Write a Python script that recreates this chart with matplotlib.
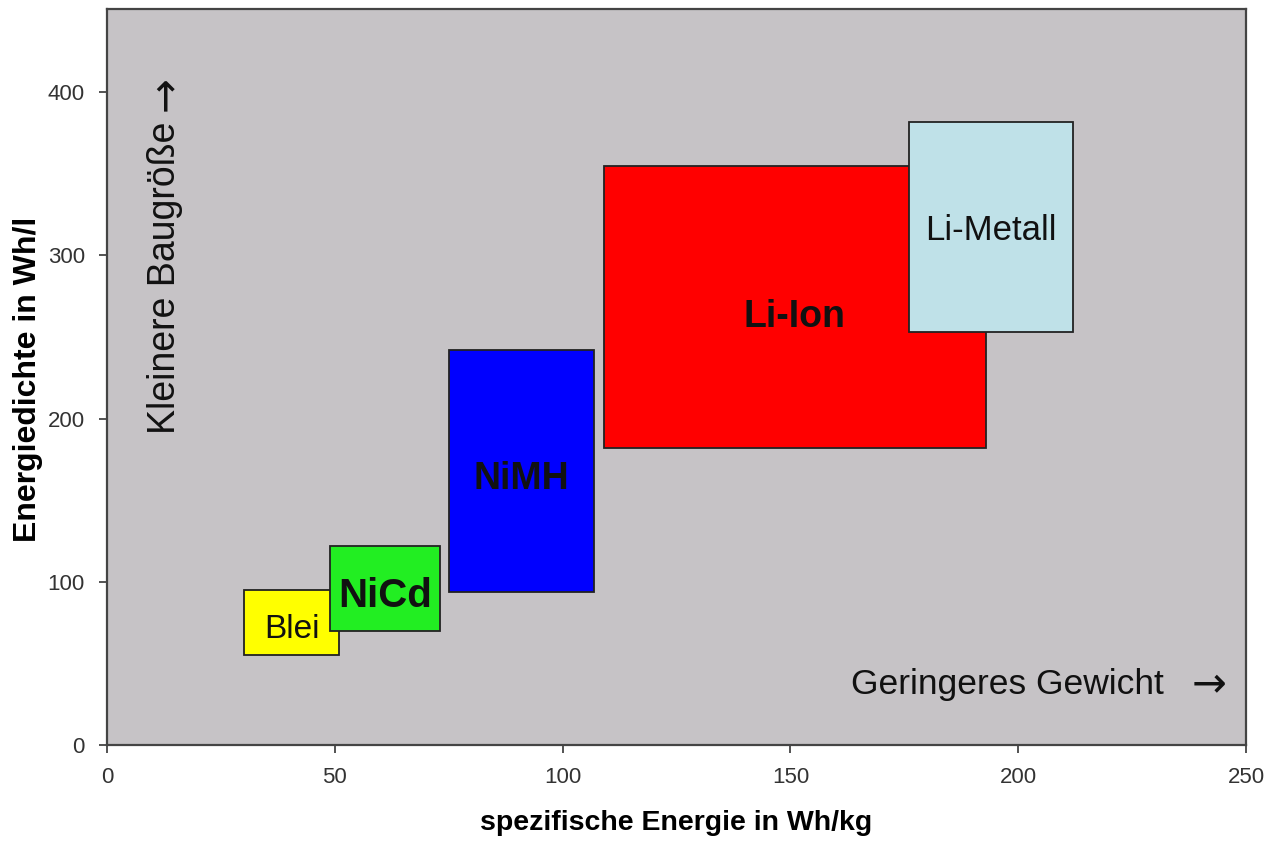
import matplotlib
matplotlib.use("Agg")
import matplotlib.pyplot as plt

plt.rcParams['font.family'] = ['Liberation Sans', 'DejaVu Sans']

# Data (Wh/kg on x, Wh/l on y)
names = ["Blei", "NiCd", "NiMH", "Li-Ion", "Li-Metall"]
x_min = [30, 49, 75, 109, 176]
x_max = [51, 73, 107, 193, 212]
y_min = [55, 70, 94, 182, 253]
y_max = [95, 122, 242, 355, 382]
colors = ["#ffff00", "#22ee22", "#0000ff", "#ff0000", "#bfe1e8"]
label_weights = ["normal", "bold", "bold", "bold", "normal"]
label_sizes = [24, 29, 27, 27, 25]
label_dy = [-4.5, -4.5, -5, -6, -2.5]

x_ticks = [0, 50, 100, 150, 200, 250]
y_ticks = [0, 100, 200, 300, 400]

fig = plt.figure(figsize=(12.81, 8.47), dpi=100)
ax = fig.add_axes([107/1281, 1-745/847, (1246-107)/1281, (745-9)/847])
ax.set_facecolor("#c6c3c6")

widths = [b - a for a, b in zip(x_min, x_max)]
heights = [b - a for a, b in zip(y_min, y_max)]
for i in range(len(names)):
    ax.bar(x_min[i], heights[i], width=widths[i], bottom=y_min[i], align='edge',
           color=colors[i], edgecolor="#222222", linewidth=1.3, zorder=2 + i)
    ax.text(x_min[i] + widths[i] / 2, y_min[i] + heights[i] / 2 + label_dy[i], names[i],
            ha='center', va='center', fontsize=label_sizes[i],
            fontweight=label_weights[i], color="#111111", zorder=10 + i)

ax.set_xlim(0, 250)
ax.set_ylim(0, 451)
ax.set_xticks(x_ticks)
ax.set_yticks(y_ticks)
ax.tick_params(axis='both', direction='out', length=6, width=1.3, colors="#444444",
               labelsize=16, labelcolor="#333333", pad=10)
for s in ax.spines.values():
    s.set_color("#444444")
    s.set_linewidth(1.6)

ax.set_xlabel("spezifische Energie in Wh/kg", fontsize=20.5, fontweight='bold', labelpad=16)
ax.set_ylabel("Energiedichte in Wh/l", fontsize=23, fontweight='bold', va='center')
ax.yaxis.set_label_coords(-0.069, 0.497)

ax.text(12.7, 286, "Kleinere Baugröße", rotation=90, ha='center', va='center',
        fontsize=27, color="#111111")
ax.text(12.7, 399, "→", rotation=90, ha='center', va='center',
        fontsize=30, color="#111111", family='DejaVu Sans')
ax.text(197.6, 36.8, "Geringeres Gewicht", ha='center', va='center',
        fontsize=25.5, color="#111111")
ax.text(242, 37.5, "→", ha='center', va='center',
        fontsize=30, color="#111111", family='DejaVu Sans')

fig.savefig("out.png", dpi=100, facecolor="white")
